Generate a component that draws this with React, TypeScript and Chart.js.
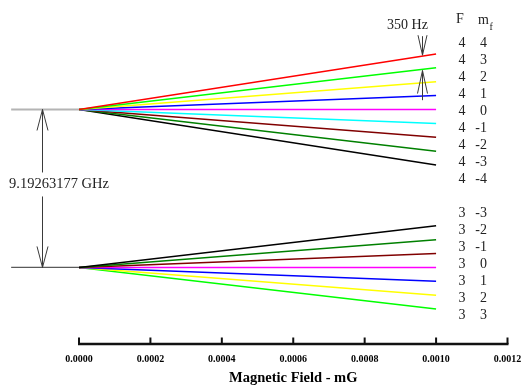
import { useEffect, useRef } from 'react';
import { Chart, registerables } from 'chart.js';

Chart.register(...registerables);

// ---- data (x in mG, y in units of the 350 Hz Zeeman splitting, F=3 level drawn below F=4) ----
const fieldStart = 0;
const fieldEnd = 0.001;
const stubStart = -0.00019;
const xTicks = [0, 0.0002, 0.0004, 0.0006, 0.0008, 0.001, 0.0012];

const f4Level = 0;
const f3Level = -11.38;

const f4Mf = [4, 3, 2, 1, 0, -1, -2, -3, -4];
const f4Shift = [4, 3, 2, 1, 0, -1, -2, -3, -4];
const f4Colors = ['#ff0000', '#00ff00', '#ffff00', '#0000ff', '#ff00ff', '#00ffff', '#800000', '#008000', '#000000'];

const f3Mf = [-3, -2, -1, 0, 1, 2, 3];
const f3Shift = [3, 2, 1, 0, -1, -2, -3];
const f3Colors = ['#000000', '#008000', '#800000', '#ff00ff', '#0000ff', '#ffff00', '#00ff00'];

const splitLabel = '9.19263177 GHz';
const splitArrowX = -0.000104;
const zeemanLabel = '350 Hz';
const zeemanArrowX = 0.00096;

const SERIF = "'Liberation Serif', 'Times New Roman', serif";

function arrowHead(ctx: CanvasRenderingContext2D, x: number, tipY: number, dir: number, len: number, half: number) {
  // dir = 1 -> arms go downward from tip (arrow points up); dir = -1 -> arms go upward (arrow points down)
  ctx.beginPath();
  ctx.moveTo(x - half, tipY + dir * len);
  ctx.lineTo(x, tipY);
  ctx.lineTo(x + half, tipY + dir * len);
  ctx.stroke();
}

const annotations = {
  id: 'annotations',
  afterDraw(chart: any) {
    const ctx: CanvasRenderingContext2D = chart.ctx;
    const xs = chart.scales.x;
    const ys = chart.scales.y;
    const area = chart.chartArea;
    ctx.save();

    // x axis line and upward ticks
    const axisY = area.bottom;
    ctx.strokeStyle = '#111';
    ctx.lineWidth = 2.6;
    ctx.beginPath();
    ctx.moveTo(xs.getPixelForValue(xTicks[0]) - 1, axisY);
    ctx.lineTo(xs.getPixelForValue(xTicks[xTicks.length - 1]) + 1, axisY);
    ctx.stroke();
    ctx.lineWidth = 2;
    xTicks.forEach((v) => {
      const px = xs.getPixelForValue(v);
      ctx.beginPath();
      ctx.moveTo(px, axisY);
      ctx.lineTo(px, axisY - 6.5);
      ctx.stroke();
    });

    // hyperfine splitting double arrow
    const ax = Math.round(xs.getPixelForValue(splitArrowX)) + 0.5;
    const top = ys.getPixelForValue(f4Level);
    const bot = ys.getPixelForValue(f3Level);
    const textY = (top + bot) / 2 - 4;
    ctx.strokeStyle = '#3a3a3a';
    ctx.lineWidth = 1;
    ctx.beginPath();
    ctx.moveTo(ax, top);
    ctx.lineTo(ax, textY - 12);
    ctx.moveTo(ax, textY + 12);
    ctx.lineTo(ax, bot);
    ctx.stroke();
    arrowHead(ctx, ax, top, 1, 21, 5.5);
    arrowHead(ctx, ax, bot, -1, 21, 5.5);
    ctx.fillStyle = '#222';
    ctx.font = `14.5px ${SERIF}`;
    ctx.textAlign = 'left';
    ctx.textBaseline = 'middle';
    ctx.fillText(splitLabel, 9, textY);

    // 350 Hz arrows
    const zx = Math.round(xs.getPixelForValue(zeemanArrowX)) + 0.5;
    const frac = (zeemanArrowX - fieldStart) / (fieldEnd - fieldStart);
    const redY = ys.getPixelForValue(f4Level + f4Shift[0] * frac);
    const greenY = ys.getPixelForValue(f4Level + f4Shift[1] * frac);
    const blueY = ys.getPixelForValue(f4Level + f4Shift[3] * frac);
    ctx.strokeStyle = '#3a3a3a';
    ctx.beginPath();
    ctx.moveTo(zx, redY - 1);
    ctx.lineTo(zx, redY - 20);
    ctx.stroke();
    arrowHead(ctx, zx, redY - 1, -1, 20, 4.5);
    ctx.beginPath();
    ctx.moveTo(zx, greenY + 1);
    ctx.lineTo(zx, blueY + 4);
    ctx.stroke();
    arrowHead(ctx, zx, greenY + 1, 1, 23, 5);
    ctx.font = `14px ${SERIF}`;
    ctx.textAlign = 'center';
    ctx.fillText(zeemanLabel, zx - 15, 25);

    // right-hand state table
    const colF = 462;
    const colM = 487;
    ctx.fillStyle = '#222';
    ctx.font = `14px ${SERIF}`;
    ctx.textAlign = 'center';
    ctx.fillText('F', 460, 19);
    ctx.textAlign = 'left';
    ctx.fillText('m', 478, 20);
    ctx.font = `10px ${SERIF}`;
    ctx.fillText('f', 489.5, 27);
    ctx.font = `14px ${SERIF}`;
    const rowY = (i: number) => 43.5 + 17 * i;
    f4Mf.forEach((mf, i) => {
      ctx.textAlign = 'center';
      ctx.fillText('4', colF, rowY(i));
      ctx.textAlign = 'right';
      ctx.fillText(String(mf), colM, rowY(i));
    });
    f3Mf.forEach((mf, i) => {
      ctx.textAlign = 'center';
      ctx.fillText('3', colF, rowY(i + 10));
      ctx.textAlign = 'right';
      ctx.fillText(String(mf), colM, rowY(i + 10));
    });

    ctx.restore();
  },
};

export default function App() {
  const ref = useRef<HTMLCanvasElement>(null);

  useEffect(() => {
    const canvas = ref.current;
    if (!canvas) return;
    const datasets: any[] = [];
    f4Mf.forEach((mf, i) => {
      datasets.push({
        label: `F=4 mF=${mf}`,
        data: [
          { x: fieldStart, y: f4Level },
          { x: fieldEnd, y: f4Level + f4Shift[i] },
        ],
        borderColor: f4Colors[i],
        borderWidth: 1.5,
      });
    });
    f3Mf.forEach((mf, i) => {
      datasets.push({
        label: `F=3 mF=${mf}`,
        data: [
          { x: fieldStart, y: f3Level },
          { x: fieldEnd, y: f3Level + f3Shift[i] },
        ],
        borderColor: f3Colors[i],
        borderWidth: 1.5,
      });
    });
    datasets.push({
      label: 'F=4 zero field',
      data: [
        { x: stubStart, y: f4Level },
        { x: fieldStart, y: f4Level },
      ],
      borderColor: '#b4b4b4',
      borderWidth: 2,
      clip: false,
    });
    datasets.push({
      label: 'F=3 zero field',
      data: [
        { x: stubStart, y: f3Level },
        { x: fieldStart, y: f3Level },
      ],
      borderColor: '#5a5a5a',
      borderWidth: 1.2,
      clip: false,
    });

    const chart = new Chart(canvas, {
      type: 'line',
      data: { datasets },
      options: {
        responsive: false,
        animation: false,
        devicePixelRatio: 1,
        layout: { padding: { left: 79, right: 18.5, top: 0, bottom: 0 } },
        elements: { point: { radius: 0, hoverRadius: 0 }, line: { tension: 0 } },
        plugins: { legend: { display: false }, tooltip: { enabled: false } },
        scales: {
          x: {
            type: 'linear',
            min: 0,
            max: 0.0012,
            grid: { display: false, drawTicks: false },
            border: { display: false },
            afterBuildTicks: (s: any) => {
              s.ticks = xTicks.map((v) => ({ value: v }));
            },
            afterFit: (s: any) => {
              s.height = 41;
              s.paddingLeft = 0;
              s.paddingRight = 0;
            },
            ticks: {
              autoSkip: false,
              maxRotation: 0,
              padding: 9.5,
              color: '#000',
              font: { family: SERIF, size: 10, weight: 'bold' },
              callback: (v: any) => Number(v).toFixed(4),
            },
            title: {
              display: true,
              text: 'Magnetic Field - mG',
              color: '#000',
              font: { family: SERIF, size: 14.5, weight: 'bold', lineHeight: 1 },
              padding: { top: 0, bottom: 0 },
            },
          },
          y: { type: 'linear', display: false, min: -16.895, max: 7.889 },
        },
      } as any,
      plugins: [annotations],
    });
    return () => chart.destroy();
  }, []);

  return (
    <div style={{ position: 'fixed', left: 0, top: 0, width: 526, height: 385, background: '#fff' }}>
      <canvas ref={ref} width={526} height={385} style={{ display: 'block', width: 526, height: 385 }} />
    </div>
  );
}
